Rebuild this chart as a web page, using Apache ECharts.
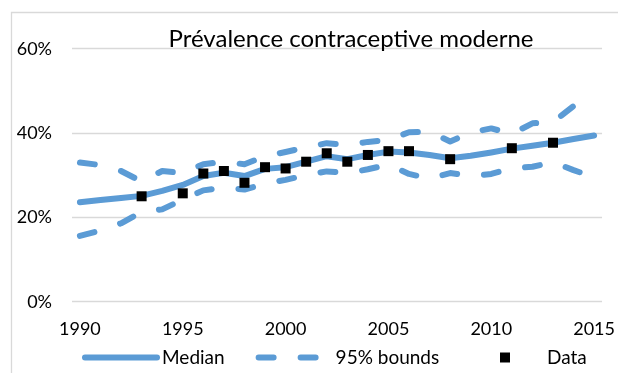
<!DOCTYPE html>
<html>
<head>
<meta charset="utf-8">
<script src="https://cdn.jsdelivr.net/npm/echarts@6/dist/echarts.min.js"></script>
<style>html,body{margin:0;padding:0;background:#fff}#c{width:618px;height:373px}</style>
</head>
<body>
<div id="c"></div>
<script>
const years = [1990,1991,1992,1993,1994,1995,1996,1997,1998,1999,2000,2001,2002,2003,2004,2005,2006,2007,2008,2009,2010,2011,2012,2013,2014,2015];
const median = [23.6,24.1,24.6,25.1,26.3,27.7,29.8,30.6,29.8,31.5,31.9,33.2,34.5,33.8,34.8,35.6,35.4,34.8,34.0,34.6,35.4,36.3,37.0,37.7,38.6,39.4];
const upper = [33.0,32.4,31.0,28.5,31.0,30.5,32.6,33.2,32.6,34.5,35.5,36.6,37.6,37.2,37.9,38.3,40.2,40.3,38.0,40.1,41.1,39.8,42.3,42.6,46.4,48.0];
const lower = [15.6,16.9,18.6,21.3,21.9,24.2,26.4,27.1,26.6,28.0,28.9,30.0,30.9,30.5,31.4,32.5,30.3,29.2,30.5,29.8,30.3,31.7,32.0,33.1,31.2,29.5];
const dataYears = [1993,1995,1996,1997,1998,1999,2000,2001,2002,2003,2004,2005,2006,2008,2011,2013];
const dataValues = [25.0,25.7,30.4,31.0,28.2,31.9,31.6,33.2,35.2,33.2,34.8,35.7,35.7,33.8,36.4,37.7];
const xTicks = [1990,1995,2000,2005,2010,2015];
const yTicks = [0,20,40,60];

const FONT = 'Lato';
const BLUE = '#5B9BD5';
const pair = (xs, ys) => xs.map((x, i) => [x, ys[i]]);

const chart = echarts.init(document.getElementById('c'), null, {renderer: 'canvas'});
chart.setOption({
  animation: false,
  backgroundColor: '#fff',
  graphic: [{
    type: 'rect', shape: {x: 11.5, y: 12.5, width: 700, height: 500},
    style: {fill: 'none', stroke: '#d9d9d9', lineWidth: 1.3}, silent: true
  }],
  title: {
    text: 'Prévalence contraceptive moderne',
    left: 346, top: 22, textAlign: 'center',
    textStyle: {fontFamily: FONT, fontSize: 24, fontWeight: 'normal', color: '#000'}
  },
  grid: {left: 72, right: 10, top: 48.7, bottom: 71.3, containLabel: false},
  xAxis: {
    type: 'value', min: 1989.615, max: 2015.385,
    axisLine: {show: false}, axisTick: {show: false}, splitLine: {show: false},
    axisLabel: {customValues: xTicks, formatter: v => String(Math.round(v)), margin: 18,
      fontFamily: FONT, fontSize: 18, color: '#000'}
  },
  yAxis: {
    type: 'value', min: yTicks[0], max: yTicks[yTicks.length - 1], interval: 20,
    axisLine: {show: false}, axisTick: {show: false},
    splitLine: {lineStyle: {color: '#d9d9d9', width: 1.3}},
    axisLabel: {formatter: '{value}%', margin: 20, fontFamily: FONT, fontSize: 18, color: '#000'}
  },
  legend: [{
    left: 82, top: 348, padding: 0, itemWidth: 72, itemHeight: 10, itemGap: 31,
    data: [
      {name: 'Median', itemStyle: {opacity: 0},
        lineStyle: {width: 6, color: BLUE, cap: 'round', type: 'solid'}},
      {name: '95% bounds', itemStyle: {opacity: 0},
        lineStyle: {width: 6, color: BLUE, cap: 'round', type: [15, 27]}}
    ],
    textStyle: {fontFamily: FONT, fontSize: 19, color: '#000'}
  }, {
    left: 500, top: 348, padding: 0, itemWidth: 10, itemHeight: 10,
    data: [{name: 'Data', icon: 'rect', itemStyle: {color: '#000', opacity: 1}}],
    textStyle: {fontFamily: FONT, fontSize: 19, color: '#000', padding: [0, 0, 0, 32]}
  }],
  series: [
    {name: 'Median', type: 'line', data: pair(years, median), symbol: 'none', z: 3,
      lineStyle: {color: BLUE, width: 6, cap: 'round', join: 'round'}, itemStyle: {color: BLUE}},
    {name: '95% bounds', type: 'line', data: pair(years, upper), symbol: 'none', z: 2,
      lineStyle: {color: BLUE, width: 6, type: [15, 27], cap: 'round', join: 'round'}, itemStyle: {color: BLUE}},
    {name: '95% bounds', type: 'line', data: pair(years, lower), symbol: 'none', z: 2,
      lineStyle: {color: BLUE, width: 6, type: [15, 27], cap: 'round', join: 'round'}, itemStyle: {color: BLUE}},
    {name: 'Data', type: 'scatter', data: pair(dataYears, dataValues), symbol: 'rect', symbolSize: 10, z: 5,
      itemStyle: {color: '#000', opacity: 1}}
  ]
});
</script>
</body>
</html>
